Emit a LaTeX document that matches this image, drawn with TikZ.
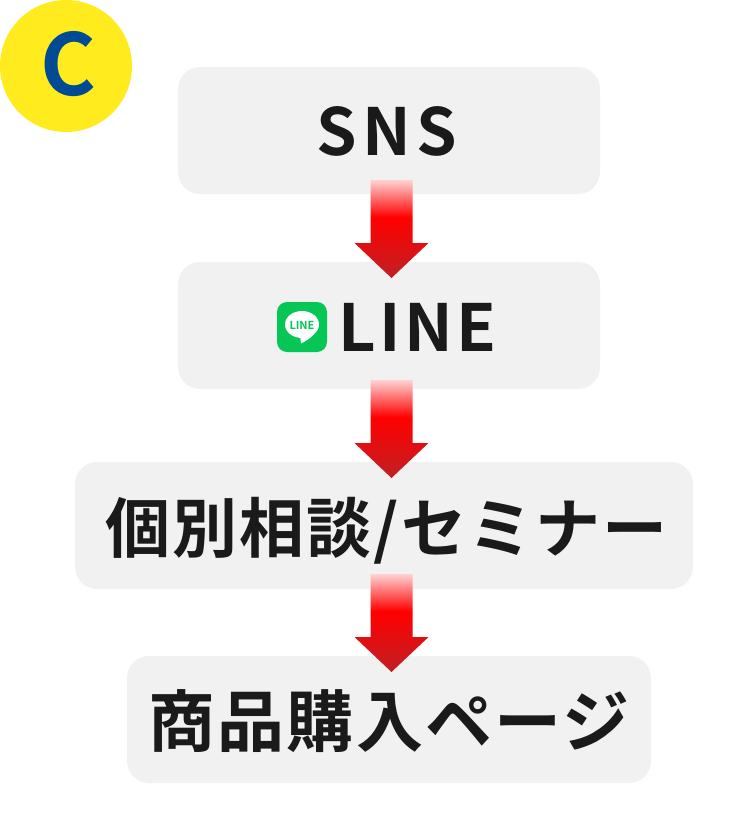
\documentclass[tikz,border=0pt]{standalone}
\usepackage{fontspec}
\usetikzlibrary{calc}
\setmainfont{Noto Sans CJK JP}[BoldFont={Noto Sans CJK JP Bold}]
\newfontfamily\jpbold{Noto Sans CJK JP Bold}
\newfontfamily\jpsns{Noto Sans CJK JP Bold}[LetterSpace=8]
\newfontfamily\jpline{Noto Sans CJK JP Bold}[LetterSpace=5.5]
\newfontfamily\jpwide{Noto Sans CJK JP Bold}[LetterSpace=3.4]
\definecolor{boxgray}{HTML}{F1F1F1}
\definecolor{inkdark}{HTML}{1A1A1A}
\definecolor{badgeyellow}{HTML}{FFEB1E}
\definecolor{badgeblue}{HTML}{004B93}
\definecolor{linegreen}{HTML}{06C755}
\definecolor{arrowtop}{HTML}{FFD2D2}
\definecolor{arrowmid}{HTML}{FF0000}
\definecolor{arrowbot}{HTML}{C02024}
\pgfdeclareverticalshading{arrowshade}{100bp}{
  color(0bp)=(arrowbot); color(25bp)=(arrowbot);
  color(56bp)=(arrowmid); color(75bp)=(arrowtop); color(100bp)=(arrowtop)}
\tikzset{
  stagebox/.style={fill=boxgray,rounded corners=22pt,inner sep=0pt,outer sep=0pt,minimum height=127pt,anchor=north west},
  stagetext/.style={inner sep=0pt,text=inkdark,anchor=center},
  bigcjk/.style={font=\jpwide\fontsize{65}{65}\selectfont},
  shopcjk/.style={font=\jpwide\fontsize{67}{67}\selectfont},
}
\newcommand{\flowarrow}[3]{%
  \coordinate (#1start) at ($(391.5,0 |- #1.south)+(0,-#3)$);
  \coordinate (#1tip) at ($(391.5,0 |- #2.north)+(0,16)$);
  \shade[shading=arrowshade]
    ($(#1start)+(-21,0)$) -- ($(#1start)+(21,0)$) -- ($(#1tip)+(21,-35)$)
    -- ($(#1tip)+(37,-35)$) -- (#1tip) -- ($(#1tip)+(-37,-35)$) -- ($(#1tip)+(-21,-35)$) -- cycle;
}
\begin{document}
\begin{tikzpicture}[x=1pt,y=-1pt]
\useasboundingbox (0,0) rectangle (750,833);
\node[fill=badgeyellow,circle,minimum size=132pt,inner sep=0pt,outer sep=0pt] (badge) at (66,66) {};
\node[text=badgeblue,inner sep=0pt,font=\jpbold\fontsize{85}{85}\selectfont] (badgeletter) at (68,64) {C};
\node[stagebox,minimum width=422pt] (sns) at (178,67) {};
\node[stagebox,minimum width=422pt] (line) at (178,262) {};
\node[stagebox,minimum width=618pt] (consult) at (75,462) {};
\node[stagebox,minimum width=524pt] (shop) at (127,656) {};
\node[stagetext,font=\jpsns\fontsize{65}{65}\selectfont,anchor=base] (snstext) at (387,155) {SNS};
\node[stagetext,font=\jpline\fontsize{65}{65}\selectfont,anchor=base west] (linetext) at (338,351) {LINE};
\node[stagetext,bigcjk,anchor=base] (consulttext) at (386.5,552) {個別相談/セミナー};
\node[stagetext,shopcjk,anchor=base] (shoptext) at (389,746) {商品購入ページ};
\flowarrow{sns}{line}{14}
\flowarrow{line}{consult}{9}
\flowarrow{consult}{shop}{15}
\fill[linegreen,rounded corners=10pt] (277,302) rectangle (327,352);
\fill[white] (302,324.5) ellipse [x radius=17,y radius=13.5];
\fill[white] (300,336) -- (301,343.5) .. controls (306,341) and (311,338) .. (314,334) -- cycle;
\node[inner sep=0pt,text=linegreen,font=\jpbold\fontsize{11}{11}\selectfont] (lineicon) at (302,325) {LINE};
\end{tikzpicture}
\end{document}
